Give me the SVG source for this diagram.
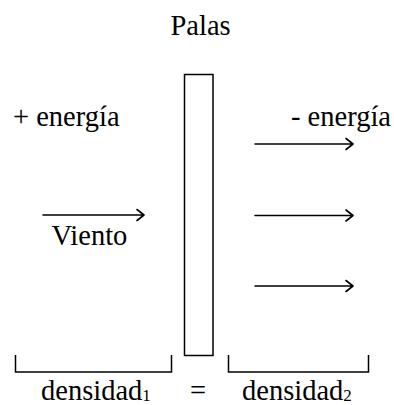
<svg xmlns="http://www.w3.org/2000/svg" width="394" height="405" viewBox="0 0 394 405">
<style>
text{font-family:"Liberation Serif","Times New Roman",serif;font-size:28.5px;fill:#000}
.ln{fill:none;stroke:#000;stroke-width:1.5}
.ar{fill:none;stroke:#000;stroke-width:1.6;stroke-linecap:round;stroke-linejoin:round}
</style>
<rect width="394" height="405" fill="#fff"/>
<g id="palas">
<rect class="ln" x="184.5" y="74.5" width="28.5" height="281"/>
<text x="170.5" y="35">Palas</text>
</g>
<g id="mas-energia"><text x="13" y="126" font-size="29.5">+ energía</text></g>
<g id="menos-energia"><text x="291" y="126">- energía</text></g>
<g id="viento"><text x="51.5" y="245">Viento</text></g>
<g id="densidad1">
<text x="41" y="400" font-size="28">densidad<tspan font-size="17" dy="1">1</tspan></text>
<path class="ln" d="M15.5,355 V372 H171.5 V355"/>
</g>
<g id="igual"><text x="190" y="400">=</text></g>
<g id="densidad2">
<path class="ln" d="M228.5,355 V372 H368.5 V355"/>
<text x="242" y="400" font-size="28">densidad<tspan font-size="17" dy="1">2</tspan></text>
</g>
<g id="connectors">
<path class="ar" d="M43,215 H144 M137,209.5 L144,215 L137,220.5"/>
<path class="ar" d="M255,144 H353 M346,138.5 L353,144 L346,149.5"/>
<path class="ar" d="M255,215.5 H353 M346,210 L353,215.5 L346,221"/>
<path class="ar" d="M255,286 H353 M346,280.5 L353,286 L346,291.5"/>
</g>
</svg>
